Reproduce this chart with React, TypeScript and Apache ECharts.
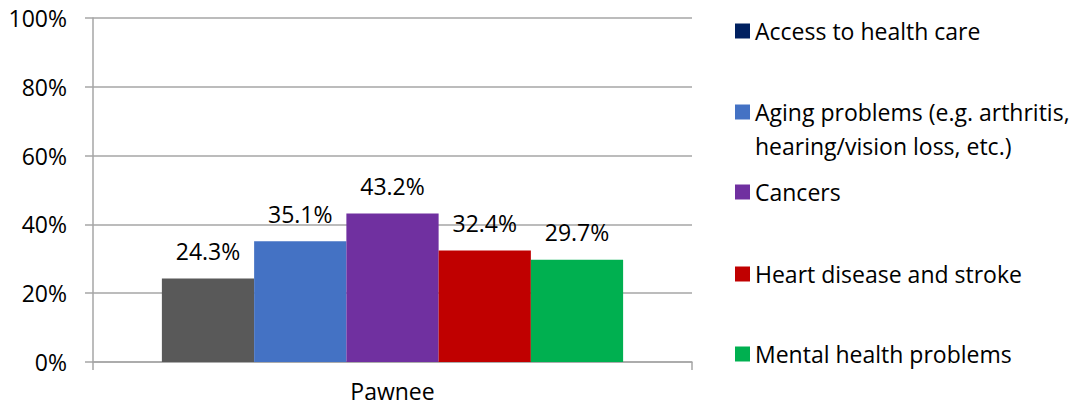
import React, { useEffect, useRef } from "react";
import * as echarts from "echarts";

const categories = ["Pawnee"];
const seriesNames = [
  "Access to health care",
  "Aging problems (e.g. arthritis,\nhearing/vision loss, etc.)",
  "Cancers",
  "Heart disease and stroke",
  "Mental health problems",
];
const seriesValues = [24.3, 35.1, 43.2, 32.4, 29.7];
const barColors = ["#595959", "#4472C4", "#7030A0", "#C00000", "#00B050"];
const legendIconColors = ["#002060", "#4472C4", "#7030A0", "#C00000", "#00B050"];
const legendIconCenters = [31, 112, 192, 274, 354];
const yTicks = [0, 20, 40, 60, 80, 100];

const FONT = "Open Sans";
const FS = 23;
const LH = 34;

export default function App() {
  const ref = useRef<HTMLDivElement>(null);
  useEffect(() => {
    if (!ref.current) return;
    const chart = echarts.init(ref.current, null, { renderer: "svg" });
    const option: any = {
      animation: false,
      backgroundColor: "#ffffff",
      textStyle: { fontFamily: FONT },
      grid: { left: 93, right: 390, top: 18, bottom: 46, containLabel: false },
      xAxis: {
        type: "category",
        data: categories,
        axisLine: { show: true, lineStyle: { color: "#A6A6A6", width: 1.5 } },
        axisTick: { show: true, length: 8, lineStyle: { color: "#A6A6A6", width: 1.5 } },
        axisLabel: { color: "#000", fontSize: FS, fontFamily: FONT, margin: 17 },
      },
      yAxis: {
        type: "value",
        min: yTicks[0],
        max: yTicks[yTicks.length - 1],
        interval: 20,
        axisLine: { show: true, lineStyle: { color: "#A6A6A6", width: 1.5 } },
        axisTick: { show: true, length: 8, lineStyle: { color: "#A6A6A6", width: 1.5 } },
        splitLine: { show: true, lineStyle: { color: "#A6A6A6", width: 1.5 } },
        axisLabel: {
          color: "#000",
          fontSize: FS,
          fontFamily: FONT,
          margin: 26,
          formatter: (v: number) => v + "%",
        },
      },
      legend: seriesNames.map((name, i) => {
        const multi = name.indexOf("\n") >= 0;
        const lines = multi ? 3 : 1;
        return {
          left: 735,
          top: legendIconCenters[i] - (lines * LH) / 2,
          padding: 0,
          orient: "vertical",
          itemWidth: 15,
          itemHeight: 15,
          itemGap: 7,
          icon: "rect",
          selectedMode: false,
          formatter: (n: string) => (multi ? " \n" + n : n),
          data: [{ name, itemStyle: { color: legendIconColors[i] } }],
          textStyle: { color: "#000", fontSize: FS, fontFamily: FONT, lineHeight: LH },
        };
      }),
      series: seriesNames.map((name, i) => ({
        name,
        type: "bar",
        data: [seriesValues[i]],
        barGap: "0%",
        barCategoryGap: "23%",
        itemStyle: { color: barColors[i] },
        label: {
          show: true,
          position: "top",
          distance: 16,
          color: "#000",
          fontSize: FS,
          fontFamily: FONT,
          formatter: (p: any) => p.value.toFixed(1) + "%",
        },
      })),
    };
    chart.setOption(option);
    return () => chart.dispose();
  }, []);
  return (
    <div
      ref={ref}
      style={{ position: "absolute", left: 0, top: 0, width: 1082, height: 408 }}
    />
  );
}
